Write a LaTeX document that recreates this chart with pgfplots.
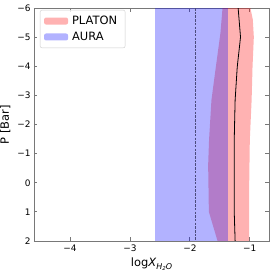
\documentclass[border=0pt]{standalone}
\usepackage{fontspec}
\setmainfont{DejaVu Sans}
\usepackage{pgfplots}
\pgfplotsset{compat=1.18}
\usetikzlibrary{calc}
\definecolor{axisgray}{RGB}{120,120,120}
\definecolor{leggray}{RGB}{204,204,204}
\definecolor{dashcol}{RGB}{75,75,125}
\begin{document}
\begin{tikzpicture}
\begin{axis}[
  name=ax, scale only axis, width=235bp, height=233bp,
  xmin=-4.6, xmax=-0.68, ymin=-6, ymax=2, y dir=reverse,
  xtick={-4,-3,-2,-1}, xticklabels={−4,−3,−2,−1},
  ytick={-6,-5,-4,-3,-2,-1,0,1,2}, yticklabels={−6,−5,−4,−3,−2,−1,0,1,2},
  tick label style={font=\fontsize{9}{10}\selectfont},
  axis line style={draw=axisgray, line width=0.8bp},
  major tick style={draw=axisgray, line width=0.8bp}, major tick length=3.5bp,
  tick align=inside,
  xlabel={log\textit{X}\raisebox{-2.6pt}{\fontsize{8}{8}\selectfont\textit{H}\raisebox{-1.2pt}{\fontsize{5.5}{5.5}\selectfont\textit{2}}\textit{O}}},
  ylabel={P [Bar]},
  label style={font=\fontsize{11.5}{13}\selectfont},
  legend cell align=left,
  legend style={at={(0.025,0.992)}, anchor=north west, draw=leggray, rounded corners=2bp,
    fill=white, fill opacity=0.8, text opacity=1, font=\fontsize{11.5}{14}\selectfont,
    inner xsep=4bp, inner ysep=4bp, row sep=2bp,
    nodes={inner xsep=4bp, inner ysep=2bp}},
  legend image code/.code={\fill[#1] (0bp,-3.5bp) rectangle (24bp,3.5bp);},
]
% PLATON band
\addplot[fill=red, fill opacity=0.3, draw=none] coordinates {
 (-1.455,-6) (-1.49,-5.14) (-1.567,-3.97) (-1.64,-2.84) (-1.68,-1.47) (-1.695,-0.6)
 (-1.683,1.0) (-1.538,2)
 (-1.01,2) (-1.01,0) (-1.0,-1.47) (-0.97,-2.84) (-0.955,-3.97) (-0.933,-5.0) (-0.95,-5.6) (-0.99,-6)
} -- cycle;
\addlegendentry{PLATON}
% AURA band
\addplot[fill=blue, fill opacity=0.3, draw=none] coordinates {
 (-2.58,-6) (-1.372,-6) (-1.372,2) (-2.58,2)
} -- cycle;
\addlegendentry{AURA}
% PLATON median
\addplot[black, line width=0.8bp, forget plot] coordinates {
 (-1.195,-6) (-1.155,-5.0) (-1.21,-3.97) (-1.245,-2.84) (-1.26,-1.47) (-1.26,1.0) (-1.245,2)
};
% AURA median
\addplot[dashcol, line width=1.6bp, dash pattern=on 2.5bp off 1.2bp, forget plot] coordinates {
 (-1.905,-6) (-1.905,2)
};
\end{axis}
\pgfresetboundingbox
\path ($(ax.south west)+(-34bp,-31bp)$) rectangle ($(ax.north east)+(4bp,8bp)$);
\end{tikzpicture}
\end{document}
